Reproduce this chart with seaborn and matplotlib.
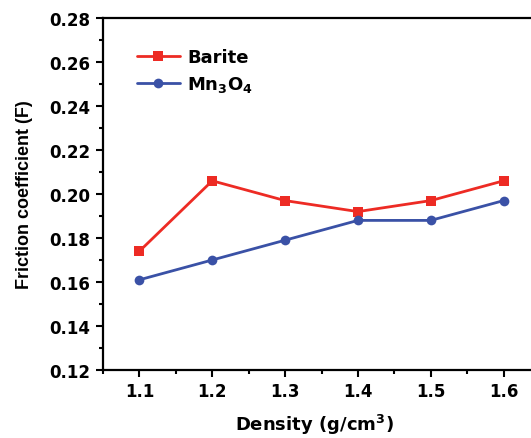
import matplotlib
matplotlib.use("Agg")
import matplotlib.pyplot as plt
import seaborn as sns
import pandas as pd
from matplotlib.ticker import MultipleLocator

density = [1.1, 1.2, 1.3, 1.4, 1.5, 1.6]
barite = [0.174, 0.206, 0.197, 0.192, 0.197, 0.206]
mn3o4 = [0.161, 0.170, 0.179, 0.188, 0.188, 0.197]
series_names = ["Barite", "Mn$_3$O$_4$"]
y_ticks = [0.12, 0.14, 0.16, 0.18, 0.20, 0.22, 0.24, 0.26, 0.28]
x_ticks = [1.1, 1.2, 1.3, 1.4, 1.5, 1.6]

sns.set_style("ticks")
plt.rcParams['font.family'] = ['DejaVu Sans']
plt.rcParams['mathtext.fontset'] = 'custom'
plt.rcParams['mathtext.rm'] = 'DejaVu Sans:bold'
plt.rcParams['mathtext.it'] = 'DejaVu Sans:bold'
plt.rcParams['mathtext.bf'] = 'DejaVu Sans:bold'
for k in ['text.color', 'axes.labelcolor', 'xtick.color', 'ytick.color', 'axes.edgecolor']:
    plt.rcParams[k] = 'black'

df = pd.DataFrame({
    "Density": density * 2,
    "F": barite + mn3o4,
    "Series": [series_names[0]] * 6 + [series_names[1]] * 6,
})

fig = plt.figure(figsize=(5.31, 4.39), dpi=100)
W, H = 531, 439
ax = fig.add_axes([103 / W, (H - 371) / H, (540 - 103) / W, (371 - 19) / H])

palette = {series_names[0]: "#ED2B24", series_names[1]: "#3A51A6"}
sns.lineplot(data=df, x="Density", y="F", hue="Series", style="Series",
             markers={series_names[0]: "s", series_names[1]: "o"}, dashes=False,
             palette=palette, linewidth=2, markersize=7, markeredgewidth=0, ax=ax)

ax.set_xlim(1.05, 1.65)
ax.set_ylim(0.12, 0.28)
ax.set_xticks(x_ticks)
ax.set_yticks(y_ticks)
ax.xaxis.set_minor_locator(MultipleLocator(0.05))
ax.yaxis.set_minor_locator(MultipleLocator(0.01))
ax.set_xticklabels([f"{v:.1f}" for v in x_ticks], fontsize=12, fontweight="bold")
ax.set_yticklabels([f"{v:.2f}" for v in y_ticks], fontsize=12, fontweight="bold")
ax.tick_params(axis="both", which="major", direction="out", length=5, width=1.5, pad=4,
               colors="black")
ax.tick_params(axis="both", which="minor", direction="out", length=3, width=1.5,
               colors="black")
for s in ax.spines.values():
    s.set_linewidth(1.6)
    s.set_color("black")
ax.set_xlabel("Density (g/cm$^3$)", fontsize=13, fontweight="bold", color="black")
ax.set_ylabel("Friction coefficient (F)", fontsize=13, fontweight="bold", color="black",
              family=["Liberation Sans", "DejaVu Sans"])
ax.xaxis.set_label_coords(0.483, -0.119)
ax.xaxis.label.set_va("top")
ax.yaxis.set_label_coords(-0.160, 0.5)

leg = ax.legend(loc="upper left", bbox_to_anchor=(0.04, 0.96), frameon=False,
                prop={"weight": "bold", "size": 13}, handlelength=2.4,
                labelspacing=0.45, handletextpad=0.4)
for t in leg.get_texts():
    t.set_color("black")

fig.savefig("out.png", dpi=100)
